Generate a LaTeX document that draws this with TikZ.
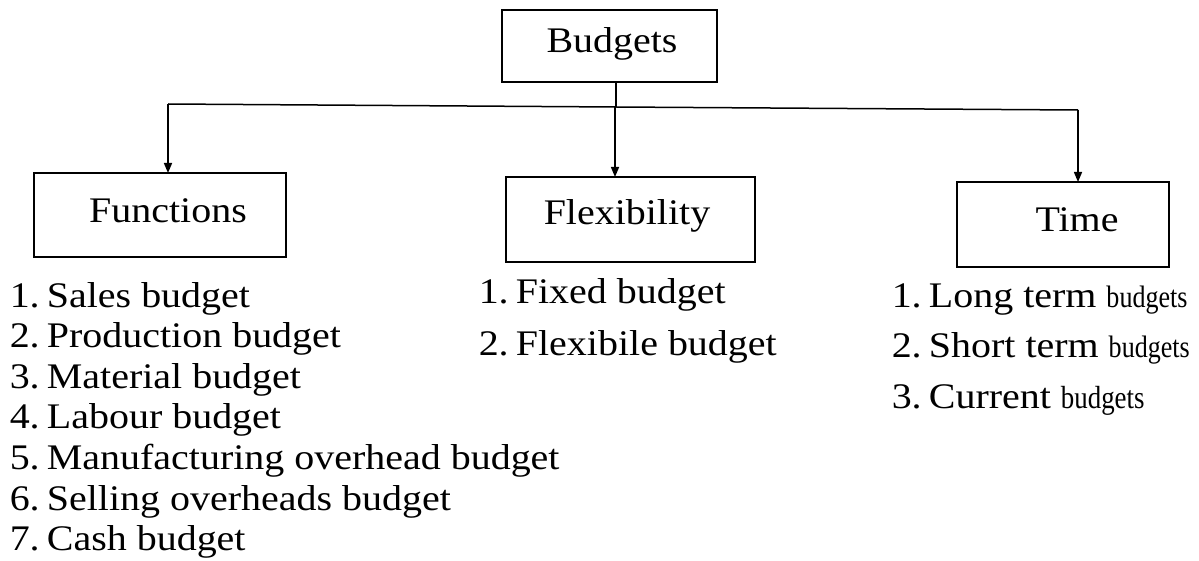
\documentclass[tikz,border=0pt]{standalone}
\usepackage{fontspec}
\setmainfont{Liberation Serif}[FakeStretch=1.11]
\newfontfamily\narrowfont{Liberation Serif}[FakeStretch=0.84]
\usetikzlibrary{arrows.meta}
% number followed by a tight gap
\newcommand{\num}[1]{#1.\hspace{0.2em}}
\begin{document}
\begin{tikzpicture}[x=1pt,y=-1pt,
  line width=1.5pt,
  box/.style={draw, line width=1.5pt, inner sep=0pt},
  lbl/.style={anchor=base, inner sep=0pt, font=\fontsize{36}{40}\selectfont},
  item/.style={anchor=base west, inner sep=0pt, font=\fontsize{36}{40}\selectfont},
  tip/.style={-{Triangle[length=10pt,width=8pt]}}]
\useasboundingbox (0,0) rectangle (1199,561);

% boxes
\draw[box] (502,10) rectangle (717,82);
\draw[box] (34,173) rectangle (286,257);
\draw[box] (506,177) rectangle (755,262);
\draw[box] (957,182) rectangle (1169,267);
\coordinate (budgetsS) at (616,82);
\coordinate (functionsN) at (168,173);
\coordinate (flexN) at (615,177);
\coordinate (timeN) at (1078,182);

% box labels
\node[lbl] (budgets) at (612,53) {Budgets};
\node[lbl] (functions) at (168,223) {Functions};
\node[lbl] (flex) at (627,225) {Flexibility};
\node[lbl] (time) at (1077,232) {Time};

% connectors
\coordinate (jl) at (168,104);
\coordinate (jm) at (616,107);
\coordinate (jr) at (1078,110);
\draw (budgetsS) -- (jm);
\draw (jl) -- (jm) -- (jr);
\draw[tip] (jl) -- (functionsN);
\draw[tip] (jm -| flexN) -- (flexN);
\draw[tip] (jr) -- (timeN);

% functions list
\node[item] (f1) at (9,307) {\num{1}Sales budget};
\node[item] (f2) at (9,347) {\num{2}Production budget};
\node[item] (f3) at (9,388) {\num{3}Material budget};
\node[item] (f4) at (9,428) {\num{4}Labour budget};
\node[item] (f5) at (9,469) {\num{5}Manufacturing overhead budget};
\node[item] (f6) at (9,510) {\num{6}Selling overheads budget};
\node[item] (f7) at (9,550) {\num{7}Cash budget};

% flexibility list
\node[item] (x1) at (478,303) {\num{1}Fixed budget};
\node[item] (x2) at (478,355) {\num{2}Flexibile budget};

% time list
\node[item] (t1) at (891,307) {\num{1}Long term {\narrowfont\fontsize{31}{34}\selectfont budgets}};
\node[item] (t2) at (891,357) {\num{2}Short term {\narrowfont\fontsize{31}{34}\selectfont budgets}};
\node[item] (t3) at (891,408) {\num{3}Current {\narrowfont\fontsize{32}{34}\selectfont budgets}};
\end{tikzpicture}
\end{document}
